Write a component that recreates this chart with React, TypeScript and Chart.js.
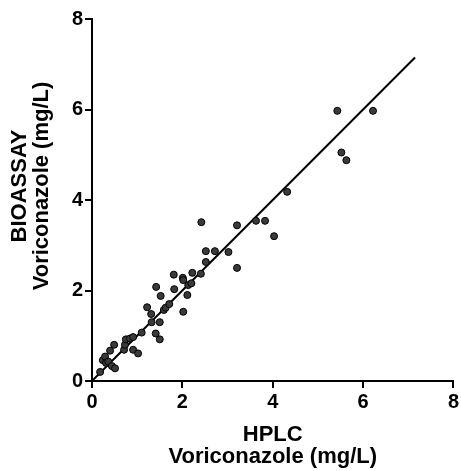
import React, { useEffect, useRef } from "react";
import { Chart, registerables } from "chart.js";

Chart.register(...registerables);

const hplc: number[] = [
  0.18, 0.24, 0.29, 0.31, 0.36, 0.40, 0.44, 0.49, 0.51, 0.71,
  0.73, 0.75, 0.84, 0.91, 0.91, 1.02, 1.10, 1.22, 1.31, 1.32,
  1.41, 1.50, 1.50, 1.59, 1.63, 1.71, 1.42, 1.52, 1.81, 1.82,
  2.01, 2.02, 2.02, 2.11, 2.13, 2.20, 2.22, 2.41, 2.52, 2.52,
  2.72, 3.02, 3.21, 2.42, 3.21, 3.63, 3.83, 4.03, 4.32, 5.43,
  5.52, 5.63, 6.22,
];
const bioassay: number[] = [
  0.20, 0.46, 0.54, 0.40, 0.43, 0.67, 0.33, 0.80, 0.28, 0.69,
  0.80, 0.92, 0.94, 0.97, 0.69, 0.61, 1.07, 1.63, 1.48, 1.30,
  1.05, 1.30, 0.92, 1.57, 1.62, 1.70, 2.08, 1.88, 2.35, 2.03,
  2.28, 2.23, 1.53, 1.90, 2.12, 2.16, 2.39, 2.37, 2.63, 2.87,
  2.87, 2.85, 2.50, 3.51, 3.44, 3.54, 3.54, 3.20, 4.18, 5.97,
  5.05, 4.88, 5.97,
];
const fitX: number[] = [0, 7.15];
const fitY: number[] = [0, 7.15];
const tickValues: number[] = [0, 2, 4, 6, 8];
const xTitle: string[] = ["HPLC", "Voriconazole (mg/L)"];
const yTitle: string[] = ["BIOASSAY", "Voriconazole (mg/L)"];

export default function App() {
  const ref = useRef<HTMLCanvasElement>(null);
  useEffect(() => {
    if (!ref.current) return;
    const fam = "'Liberation Sans', Arial, sans-serif";
    const tickFont = { family: fam, size: 20, weight: "bold" as const };
    const titleFont = { family: fam, size: 22, weight: "bold" as const, lineHeight: 1.0 };
    const axisCommon = () => ({
      type: "linear" as const,
      min: 0,
      max: 8,
      afterBuildTicks: (scale: any) => {
        scale.ticks = tickValues.map((v) => ({ value: v }));
      },
      ticks: { color: "#000", font: tickFont, padding: 2 },
      grid: {
        display: true,
        drawOnChartArea: false,
        drawTicks: true,
        tickLength: 7,
        color: "#000",
        lineWidth: 2,
      },
      border: { display: true, color: "#000", width: 2 },
    });
    const yTitlePlugin = {
      id: "yTitlePlugin",
      afterDraw(c: any) {
        const ctx = c.ctx;
        ctx.save();
        ctx.fillStyle = "#000";
        ctx.font = `bold 22px ${fam}`;
        ctx.textAlign = "center";
        ctx.textBaseline = "middle";
        const xs = [20, 42];
        yTitle.forEach((t, i) => {
          ctx.save();
          ctx.translate(xs[i], 186);
          ctx.rotate(-Math.PI / 2);
          ctx.fillText(t, 0, 0);
          ctx.restore();
        });
        ctx.restore();
      },
    };
    const chart = new Chart(ref.current, {
      type: "scatter",
      data: {
        datasets: [
          {
            type: "line" as any,
            data: fitX.map((x, i) => ({ x, y: fitY[i] })),
            borderColor: "#000",
            borderWidth: 2,
            pointRadius: 0,
            fill: false,
            order: 2,
          },
          {
            data: hplc.map((x, i) => ({ x, y: bioassay[i] })),
            backgroundColor: "#3a3a3a",
            borderColor: "#000",
            borderWidth: 1,
            pointRadius: 3.5,
            order: 1,
          },
        ],
      },
      options: {
        responsive: false,
        animation: false,
        layout: { padding: { left: 0, top: 19, right: 6, bottom: 0 } },
        plugins: { legend: { display: false }, tooltip: { enabled: false } },
        scales: {
          x: {
            ...axisCommon(),
            position: "bottom",
            title: { display: true, text: xTitle, color: "#000", font: titleFont, padding: { top: 0, bottom: 3 } },
            afterFit: (s: any) => {
              s.height = 90;
            },
          },
          y: {
            ...axisCommon(),
            position: "left",
            afterFit: (s: any) => {
              s.width = 92;
            },
          },
        },
      },
      plugins: [yTitlePlugin],
    });
    return () => chart.destroy();
  }, []);
  return (
    <div style={{ position: "fixed", left: 0, top: 0, width: 461, height: 471, background: "#fff" }}>
      <canvas ref={ref} width={461} height={471} />
    </div>
  );
}
